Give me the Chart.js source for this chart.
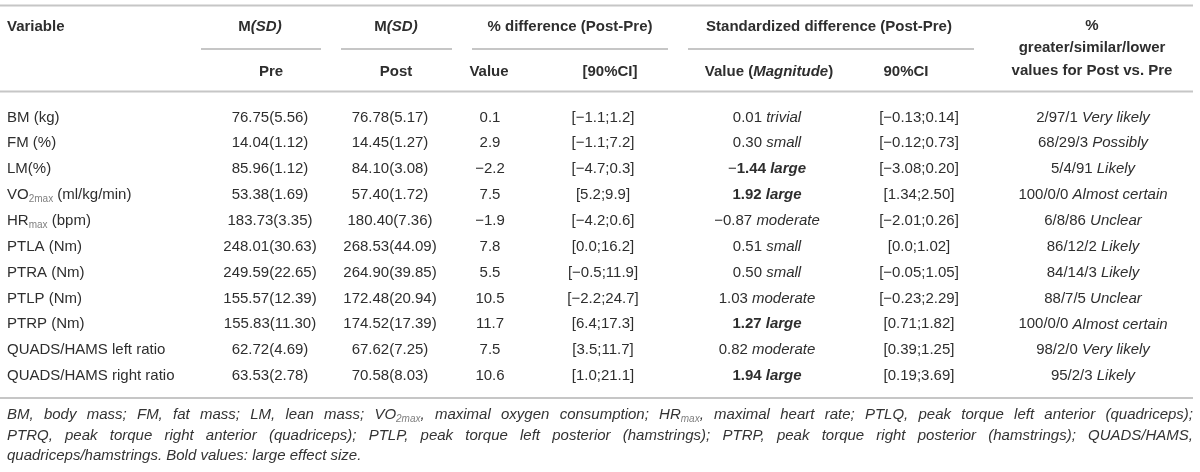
<!DOCTYPE html>
<html>
<head>
<meta charset="utf-8">
<title>Pre vs Post</title>
<script src="https://cdn.jsdelivr.net/npm/chart.js@4.4.1/dist/chart.umd.min.js"></script>
<style>
  html, body { margin: 0; padding: 0; background: #fff; }
  canvas { display: block; }
</style>
</head>
<body>
<canvas id="table" width="1200" height="472"></canvas>
<script>
var variables = ['BM (kg)', 'FM (%)', 'LM(%)', 'VO{2max} (ml/kg/min)', 'HR{max} (bpm)', 'PTLA (Nm)',
  'PTRA (Nm)', 'PTLP (Nm)', 'PTRP (Nm)', 'QUADS/HAMS left ratio', 'QUADS/HAMS right ratio'];
var preMean  = [76.75, 14.04, 85.96, 53.38, 183.73, 248.01, 249.59, 155.57, 155.83, 62.72, 63.53];
var preSD    = [5.56, 1.12, 1.12, 1.69, 3.35, 30.63, 22.65, 12.39, 11.30, 4.69, 2.78];
var postMean = [76.78, 14.45, 84.10, 57.40, 180.40, 268.53, 264.90, 172.48, 174.52, 67.62, 70.58];
var postSD   = [5.17, 1.27, 3.08, 1.72, 7.36, 44.09, 39.85, 20.94, 17.39, 7.25, 8.03];
var pctDiff  = [0.1, 2.9, -2.2, 7.5, -1.9, 7.8, 5.5, 10.5, 11.7, 7.5, 10.6];
var pctLo    = [-1.1, -1.1, -4.7, 5.2, -4.2, 0.0, -0.5, -2.2, 6.4, 3.5, 1.0];
var pctHi    = [1.2, 7.2, 0.3, 9.9, 0.6, 16.2, 11.9, 24.7, 17.3, 11.7, 21.1];
var stdDiff  = [0.01, 0.30, -1.44, 1.92, -0.87, 0.51, 0.50, 1.03, 1.27, 0.82, 1.94];
var magnitude = ['trivial', 'small', 'large', 'large', 'moderate', 'small', 'small', 'moderate', 'large', 'moderate', 'large'];
var stdLo    = [-0.13, -0.12, -3.08, 1.34, -2.01, 0.0, -0.05, -0.23, 0.71, 0.39, 0.19];
var stdHi    = [0.14, 0.73, 0.20, 2.50, 0.26, 1.02, 1.05, 2.29, 1.82, 1.25, 3.69];
var chances  = ['2/97/1', '68/29/3', '5/4/91', '100/0/0', '6/8/86', '86/12/2', '84/14/3', '88/7/5', '100/0/0', '98/2/0', '95/2/3'];
var inference = ['Very likely', 'Possibly', 'Likely', 'Almost certain', 'Unclear', 'Likely', 'Likely', 'Unclear',
  'Almost certain', 'Very likely', 'Likely'];

var footnote = [
  'BM, body mass; FM, fat mass; LM, lean mass; VO{2max}, maximal oxygen consumption; HR{max}, maximal heart rate; PTLQ, peak torque left anterior (quadriceps);',
  'PTRQ, peak torque right anterior (quadriceps); PTLP, peak torque left posterior (hamstrings); PTRP, peak torque right posterior (hamstrings); QUADS/HAMS,',
  'quadriceps/hamstrings. Bold values: large effect size.'
];

// ---- layout / style ----
var FAMILY = '"Liberation Sans", Arial, Helvetica, sans-serif';
var TEXT = '#2e2e2e';
var RULE = '#c6c6c6';
var F = {
  reg: '15px ' + FAMILY,
  it: 'italic 15px ' + FAMILY,
  bold: 'bold 15px ' + FAMILY,
  boldIt: 'italic bold 15px ' + FAMILY,
  sub: '10px ' + FAMILY,
  note: 'italic 15px ' + FAMILY,
  noteSub: 'italic 10px ' + FAMILY
};
// column anchors in table units (0..1200 across the page)
var colX = [7, 270, 390, 490, 603, 767, 919, 1093];
var headX = [7, 260, 396, 570, 829, 1092];
var subX = [271, 396, 489, 610, 769, 906, 1092];
var subRules = [[201, 321], [341, 452], [472, 668], [688, 974]];

function num(v, d) {
  var s = Math.abs(v).toFixed(d);
  return (v < 0 ? '\u2212' : '') + s;
}
function ciNum(v) { return v === 0 ? '0.0' : num(v, 2); }

// "VO{2max}" -> runs with subscript
function subRuns(str, font, subFont, color) {
  var runs = [];
  var parts = str.split(/(\{[^}]*\})/);
  parts.forEach(function (p) {
    if (!p) return;
    if (p.charAt(0) === '{') runs.push({ t: p.slice(1, -1), font: subFont, dy: 4, color: '#808080' });
    else runs.push({ t: p, font: font, color: color });
  });
  return runs;
}

function cellRuns(c, i) {
  if (c === 0) return subRuns(variables[i], F.reg, F.sub);
  if (c === 1) return [{ t: preMean[i].toFixed(2) + '(' + preSD[i].toFixed(2) + ')', font: F.reg }];
  if (c === 2) return [{ t: postMean[i].toFixed(2) + '(' + postSD[i].toFixed(2) + ')', font: F.reg }];
  if (c === 3) return [{ t: num(pctDiff[i], 1), font: F.reg }];
  if (c === 4) return [{ t: '[' + num(pctLo[i], 1) + ';' + num(pctHi[i], 1) + ']', font: F.reg }];
  if (c === 5) {
    if (magnitude[i] === 'large') {
      var r = [];
      if (stdDiff[i] < 0) r.push({ t: '\u2212', font: F.reg });
      r.push({ t: Math.abs(stdDiff[i]).toFixed(2) + ' ', font: F.bold });
      r.push({ t: magnitude[i], font: F.boldIt });
      return r;
    }
    return [{ t: num(stdDiff[i], 2) + ' ', font: F.reg }, { t: magnitude[i], font: F.it }];
  }
  if (c === 6) return [{ t: '[' + ciNum(stdLo[i]) + ';' + ciNum(stdHi[i]) + ']', font: F.reg }];
  return [{ t: chances[i] + ' ', font: F.reg }, { t: inference[i], font: F.it }];
}

function measure(ctx, runs) {
  var w = 0;
  runs.forEach(function (r) { ctx.font = r.font; r.w = ctx.measureText(r.t).width; w += r.w; });
  return w;
}
function drawRuns(ctx, runs, x, y, align) {
  var w = measure(ctx, runs);
  var cx = align === 'left' ? x : x - w / 2;
  runs.forEach(function (r) {
    ctx.font = r.font;
    ctx.fillStyle = r.color || TEXT;
    ctx.fillText(r.t, cx, y + (r.dy || 0));
    cx += r.w;
  });
}
function rule(ctx, x1, x2, y) {
  ctx.beginPath();
  ctx.moveTo(x1, y);
  ctx.lineTo(x2, y);
  ctx.stroke();
}

var tablePlugin = {
  id: 'tablePlugin',
  afterDatasetsDraw: function (chart) {
    var ctx = chart.ctx;
    var xs = chart.scales.x;
    var top = chart.chartArea.top, bottom = chart.chartArea.bottom;
    var X = function (v) { return xs.getPixelForValue(v); };
    ctx.save();
    ctx.textBaseline = 'middle';
    ctx.textAlign = 'left';

    // rules
    ctx.strokeStyle = RULE;
    ctx.lineWidth = 1.8;
    rule(ctx, X(0), X(1193), top - 99);
    rule(ctx, X(0), X(1193), top - 13);
    rule(ctx, X(0), X(1193), bottom + 9);
    subRules.forEach(function (s) { rule(ctx, X(s[0]), X(s[1]), top - 55.5); });

    // header rows
    var h1 = top - 78, h2 = top - 33;
    drawRuns(ctx, [{ t: 'Variable', font: F.bold }], X(headX[0]), h1, 'left');
    drawRuns(ctx, [{ t: 'M', font: F.bold }, { t: '(SD)', font: F.boldIt }], X(headX[1]), h1);
    drawRuns(ctx, [{ t: 'M', font: F.bold }, { t: '(SD)', font: F.boldIt }], X(headX[2]), h1);
    drawRuns(ctx, [{ t: '% difference (Post-Pre)', font: F.bold }], X(headX[3]), h1);
    drawRuns(ctx, [{ t: 'Standardized difference (Post-Pre)', font: F.bold }], X(headX[4]), h1);
    drawRuns(ctx, [{ t: '%', font: F.bold }], X(headX[5]), h1 - 1);
    drawRuns(ctx, [{ t: 'greater/similar/lower', font: F.bold }], X(headX[5]), (h1 + h2) / 2 - 1);
    drawRuns(ctx, [{ t: 'Pre', font: F.bold }], X(subX[0]), h2);
    drawRuns(ctx, [{ t: 'Post', font: F.bold }], X(subX[1]), h2);
    drawRuns(ctx, [{ t: 'Value', font: F.bold }], X(subX[2]), h2);
    drawRuns(ctx, [{ t: '[90%CI]', font: F.bold }], X(subX[3]), h2);
    drawRuns(ctx, [{ t: 'Value (', font: F.bold }, { t: 'Magnitude', font: F.boldIt }, { t: ')', font: F.bold }], X(subX[4]), h2);
    drawRuns(ctx, [{ t: '90%CI', font: F.bold }], X(subX[5]), h2);
    drawRuns(ctx, [{ t: 'values for Post vs. Pre', font: F.bold }], X(subX[6]), h2 - 1);

    // body cells, placed on the dataset points
    chart.data.datasets.forEach(function (ds, c) {
      var meta = chart.getDatasetMeta(c);
      meta.data.forEach(function (pt, i) {
        drawRuns(ctx, cellRuns(c, i), pt.x, pt.y, c === 0 ? 'left' : 'center');
      });
    });

    // footnote, justified except last line
    var left = X(7), right = X(1193);
    footnote.forEach(function (line, k) {
      var y = bottom + 26 + k * 20.5;
      var words = line.split(' ').map(function (w) { return subRuns(w, F.note, F.noteSub, '#333'); });
      if (k === footnote.length - 1) {
        var runs = [];
        words.forEach(function (w, j) {
          runs = runs.concat(w);
          if (j < words.length - 1) runs.push({ t: ' ', font: F.note });
        });
        drawRuns(ctx, runs, left, y, 'left');
        return;
      }
      var widths = words.map(function (w) { return measure(ctx, w); });
      var total = widths.reduce(function (a, b) { return a + b; }, 0);
      var gap = (right - left - total) / (words.length - 1);
      var cx = left;
      words.forEach(function (w, j) {
        drawRuns(ctx, w, cx, y, 'left');
        cx += widths[j] + gap;
      });
    });
    ctx.restore();
  }
};

var datasets = colX.map(function (x, c) {
  return {
    label: 'col' + c,
    data: variables.map(function (v) { return { x: x, y: v }; }),
    pointRadius: 0,
    pointHoverRadius: 0
  };
});

new Chart(document.getElementById('table'), {
  type: 'scatter',
  data: { datasets: datasets },
  options: {
    responsive: false,
    animation: false,
    events: [],
    layout: { padding: { left: 0, right: 0, top: 104.5, bottom: 83 } },
    plugins: { legend: { display: false }, tooltip: { enabled: false } },
    scales: {
      x: { type: 'linear', min: 0, max: 1200, display: false },
      y: { type: 'category', labels: variables, offset: true, display: false }
    }
  },
  plugins: [tablePlugin]
});
</script>
</body>
</html>
